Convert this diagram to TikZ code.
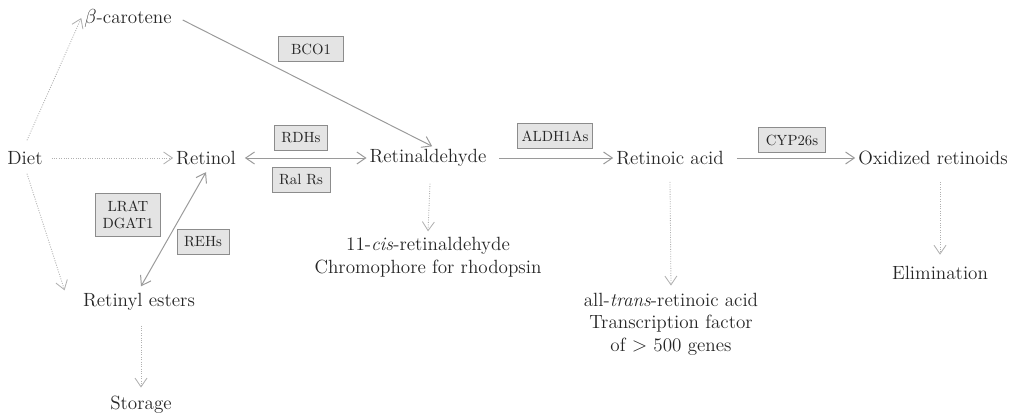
\documentclass[tikz,border=0pt]{standalone}
\usepackage{tikz}
\usetikzlibrary{arrows.meta, positioning}
\usepackage{xcolor}
\definecolor{ink}     {HTML}{262626}
\definecolor{line}    {HTML}{9A9A9A}
\definecolor{dotline} {HTML}{B0B0B0}
\definecolor{tagfill} {HTML}{E4E4E4}
\definecolor{tagdraw} {HTML}{8C8C8C}
\tikzset{
  mol/.style    = {font=\fontsize{13.6}{16}\selectfont, text=ink, inner sep=2pt},
  note/.style   = {mol, align=center},
  tag/.style    = {draw=tagdraw, fill=tagfill, line width=0.5pt,
                   font=\fontsize{10.5}{12.5}\selectfont, text=ink,
                   inner xsep=5pt, inner ysep=5pt, align=center},
  arr/.style    = {-{Straight Barb[length=2.2mm, width=3mm]}, line width=0.7pt, line},
  darr/.style   = {arr, dotline, densely dotted, line width=0.6pt},
  biarr/.style  = {arr, {Straight Barb[length=2.2mm, width=3mm]}-{Straight Barb[length=2.2mm, width=3mm]}},
}

\begin{document}
\begin{tikzpicture}[x=0.025cm, y=-0.025cm]
  \useasboundingbox (0,0) rectangle (1020,418);

  % main row
  \node[mol] (diet)  at (25,158)  {Diet};
  \node[mol] (rol)   at (206,158) {Retinol};
  \node[mol] (ral)   at (428,158) {Retinaldehyde};
  \node[mol] (ra)    at (670,158) {Retinoic acid};
  \node[mol] (oxi)   at (933,158) {Oxidized retinoids};

  % side branches
  \node[mol] (carot) at (128,18)  {$\beta$-carotene};
  \node[mol] (ester) at (139,302) {Retinyl esters};
  \node[mol] (store) at (141,405) {Storage};
  \node[mol] (elim)  at (940,273) {Elimination};
  \node[note] (cis)  at (428,257)
    {11-\emph{cis}-retinaldehyde\\Chromophore for rhodopsin};
  \node[note] (trans) at (671,324)
    {all-\emph{trans}-retinoic acid\\Transcription factor\\of $>$ 500 genes};

  % enzymes
  \node[tag, inner xsep=9pt] (bco) at (311,49) {BCO1};
  \node[tag] (rdh)   at (301,138) {RDHs};
  \node[tag] (ralr)  at (301,180) {Ral Rs};
  \node[tag, inner xsep=3pt] (aldh) at (555,136) {ALDH1As};
  \node[tag] (cyp)   at (792,140) {CYP26s};
  \node[tag] (lrat)  at (128,215) {LRAT\\DGAT1};
  \node[tag] (reh)   at (203,242) {REHs};

  % dietary uptake
  \draw[darr] (diet.east) ++(6,0) -- (rol.west);
  \draw[darr] (diet.north) ++(2,-8) -- (carot.west);
  \draw[darr] (diet.south) ++(2,6) -- ([xshift=-11pt]ester.north west);

  % conversions
  \draw[arr]   (carot.east) ++(8,2) -- ([xshift=3pt]ral.north);
  \draw[biarr] (rol.east) ++(6,0) -- (ral.west);
  \draw[arr]   (ral.east) ++(10,0) -- (ra.west);
  \draw[arr]   (ra.east) ++(10,0) -- (oxi.west);
  \draw[biarr] (ester.north) ++(2,-4) -- ([yshift=-3pt]rol.south);

  % fates
  \draw[darr] (ral.south) ++(2,14) -- ([yshift=2pt]cis.north);
  \draw[darr] (ra.south) ++(0,14) -- ([yshift=3pt]trans.north);
  \draw[darr] (oxi.south) ++(7,14) -- ([yshift=6pt]elim.north);
  \draw[darr] (ester.south) ++(2,12) -- ([yshift=4pt]store.north);

\end{tikzpicture}
\end{document}
